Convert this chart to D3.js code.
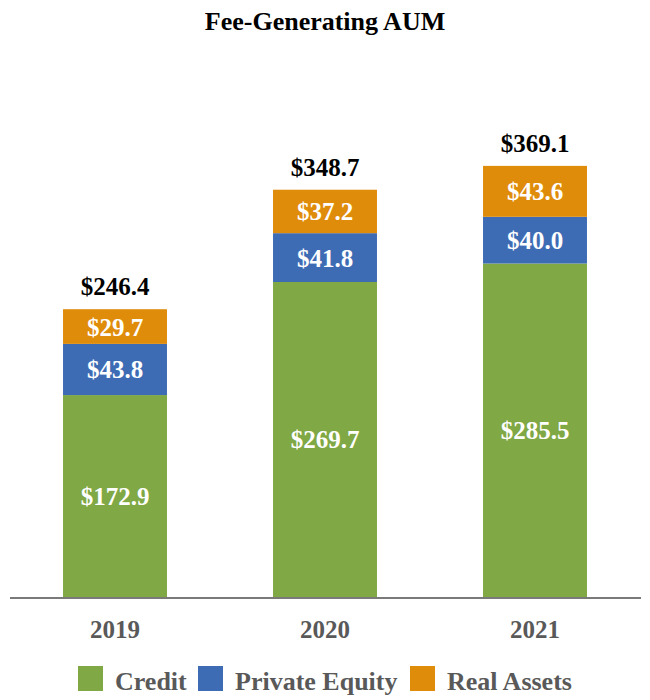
<!DOCTYPE html>
<html>
<head>
<meta charset="utf-8">
<script src="https://cdn.jsdelivr.net/npm/d3@7"></script>
<style>
  html, body { margin: 0; padding: 0; background: #ffffff; }
  svg { display: block; }
</style>
</head>
<body>
<div id="chart"></div>
<script>
const years = ["2019", "2020", "2021"];
const seriesNames = ["Credit", "Private Equity", "Real Assets"];
const credit = [172.9, 269.7, 285.5];
const privateEquity = [43.8, 41.8, 40.0];
const realAssets = [29.7, 37.2, 43.6];
const totals = [246.4, 348.7, 369.1];
const colors = ["#80A844", "#3E6CB4", "#E08C0B"];

const W = 650, H = 700;
const svg = d3.select("#chart").append("svg").attr("width", W).attr("height", H);
const font = "'Liberation Serif', 'Times New Roman', serif";

const table = years.map((y, i) => ({
  year: y,
  "Credit": credit[i],
  "Private Equity": privateEquity[i],
  "Real Assets": realAssets[i],
  total: totals[i]
}));

const x = d3.scaleBand().domain(years).range([10, 640]).paddingInner(0.505).paddingOuter(0.2525);
const y = d3.scaleLinear().domain([0, 400]).range([597, 597 - 400 * 1.168]);

const stack = d3.stack().keys(seriesNames)(table);

// title
svg.append("text").attr("x", 325).attr("y", 30).attr("text-anchor", "middle")
  .attr("font-family", font).attr("font-weight", "bold").attr("font-size", 26)
  .attr("fill", "#000").text("Fee-Generating AUM");

// bars
const g = svg.append("g");
stack.forEach((layer, li) => {
  g.selectAll(null).data(layer).enter().append("rect")
    .attr("x", d => x(d.data.year))
    .attr("width", x.bandwidth())
    .attr("y", d => y(d[1]))
    .attr("height", d => y(d[0]) - y(d[1]))
    .attr("fill", colors[li]);
  g.selectAll(null).data(layer).enter().append("text")
    .attr("x", d => x(d.data.year) + x.bandwidth() / 2)
    .attr("y", d => (y(d[0]) + y(d[1])) / 2 + 9)
    .attr("text-anchor", "middle")
    .attr("font-family", font).attr("font-weight", "bold").attr("font-size", 25)
    .attr("fill", "#ffffff")
    .text(d => "$" + (d[1] - d[0]).toFixed(1));
});

// totals
g.selectAll(null).data(table).enter().append("text")
  .attr("x", d => x(d.year) + x.bandwidth() / 2)
  .attr("y", d => y(d.total) - 14)
  .attr("text-anchor", "middle")
  .attr("font-family", font).attr("font-weight", "bold").attr("font-size", 25)
  .attr("fill", "#000")
  .text(d => "$" + d.total.toFixed(1));

// axis
const axis = svg.append("g").attr("transform", `translate(0,${y(0)})`)
  .call(d3.axisBottom(x).tickSize(0).tickPadding(0));
axis.select(".domain").attr("stroke", "#7a7a7a").attr("stroke-width", 2).attr("d", "M10,1H641");
axis.selectAll(".tick text")
  .attr("font-family", font).attr("font-weight", "bold").attr("font-size", 25)
  .attr("fill", "#595959").attr("dy", 0).attr("y", 41);

// legend
const legendX = [78, 198, 410];
const leg = svg.append("g");
seriesNames.forEach((name, i) => {
  leg.append("rect").attr("x", legendX[i]).attr("y", 666).attr("width", 25).attr("height", 25).attr("fill", colors[i]);
  leg.append("text").attr("x", legendX[i] + 37).attr("y", 690)
    .attr("font-family", font).attr("font-weight", "bold").attr("font-size", 26)
    .attr("fill", "#595959").text(name);
});
</script>
</body>
</html>
